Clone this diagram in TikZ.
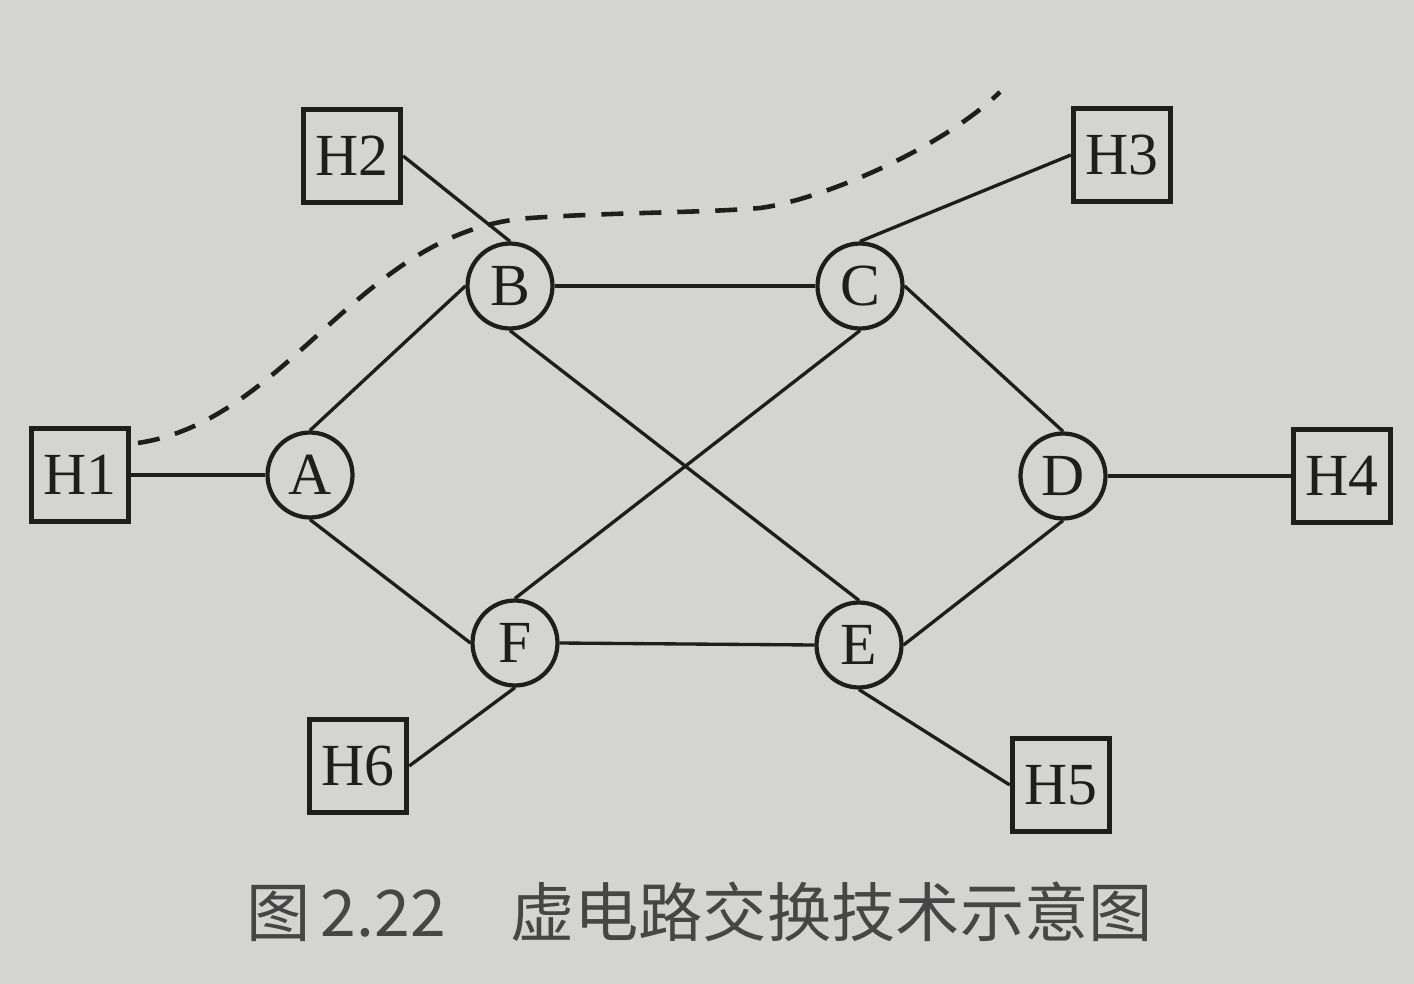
\documentclass[tikz,border=0pt]{standalone}
\usepackage{fontspec}
\setmainfont{Liberation Serif}
\newfontfamily\cjk{Noto Sans CJK SC}
\definecolor{paper}{RGB}{212,213,210}
\definecolor{ink}{RGB}{30,30,30}
\definecolor{print}{RGB}{70,70,70}

\begin{document}
\begin{tikzpicture}[x=0.02cm,y=-0.02cm,
    host/.style={draw=ink, line width=2.8pt, minimum width=1.95cm, minimum height=1.85cm,
                 inner sep=0pt, text=ink, font=\fontsize{34}{40}\selectfont},
    switch/.style={circle, draw=ink, line width=2.4pt, minimum size=1.7cm,
                   inner sep=0pt, text=ink, font=\fontsize{34}{40}\selectfont},
    link/.style={draw=ink, line width=1.9pt},
    vpath/.style={draw=ink, line width=2.6pt, dash pattern=on 0.44cm off 0.32cm}]

    % Paper:
    \fill[paper] (0,0) rectangle (1414,984);
    \useasboundingbox (0,0) rectangle (1414,984);

    % Hosts:
    \node[host] (H1) at (80,475) {H1};
    \node[host] (H2) at (352,156) {H2};
    \node[host] (H3) at (1122,155) {H3};
    \node[host] (H4) at (1342,476) {H4};
    \node[host] (H5) at (1061,785) {H5};
    \node[host] (H6) at (358,766) {H6};

    % Switching nodes:
    \node[switch] (A) at (310,475) {A};
    \node[switch] (B) at (510,286) {B};
    \node[switch] (C) at (860,286) {C};
    \node[switch] (D) at (1063,476) {D};
    \node[switch] (E) at (859,645) {E};
    \node[switch] (F) at (515,643) {F};

    % Links:
    \draw[link] (H1.east) -- (A.west);
    \draw[link] (A.north) -- (B.west);
    \draw[link] (A.south) -- (F.west);
    \draw[link] (H2.east) -- (B.north);
    \draw[link] (B.east) -- (C.west);
    \draw[link] (B.south) -- (E.north);
    \draw[link] (C.south) -- (F.north);
    \draw[link] (C.north) -- (H3.west);
    \draw[link] (C.east) -- (D.north);
    \draw[link] (D.east) -- (H4.west);
    \draw[link] (D.south) -- (E.east);
    \draw[link] (F.east) -- (E.west);
    \draw[link] (E.south) -- (H5.west);
    \draw[link] (F.south) -- (H6.east);

    % Virtual circuit:
    \coordinate (vcStart) at (138,443);
    \coordinate (vcEnd) at (1000,92);
    \draw[vpath] (vcStart) .. controls (290,420) and (360,230) .. (530,218)
        .. controls (620,212) and (700,213) .. (760,208)
        .. controls (820,200) and (940,150) .. (vcEnd);

    % Caption:
    \node[font=\cjk\fontsize{36.6}{40}\selectfont, text=print] (caption) at (700,912)
        {图\hspace{0.15em}2.22\quad 虚电路交换技术示意图};
\end{tikzpicture}
\end{document}
